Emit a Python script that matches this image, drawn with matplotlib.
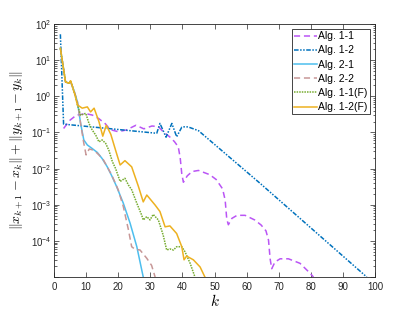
import numpy as np
import matplotlib
matplotlib.use('Agg')
import matplotlib.pyplot as plt
from matplotlib.ticker import LogLocator, NullFormatter, FixedLocator

plt.rcParams['font.family'] = ['Liberation Sans', 'DejaVu Sans']
plt.rcParams['mathtext.fontset'] = 'cm'

# iteration index / error values
k_a11 = [3, 5, 7, 10, 12, 14, 16, 17.5, 20, 22.5, 25.5, 28, 30.5, 32.5, 34, 36, 37.5, 38.7, 39.3,
         39.8, 40.3, 41.5, 43, 45, 48.5, 50.5, 52.5, 53.3, 53.8, 54.3, 55.4, 57, 59.5, 62.5, 64.5,
         66, 66.8, 67.3, 67.8, 68.8, 70.4, 73, 76.6, 79.8, 80.8]
e_a11 = [0.129, 0.219, 0.302, 0.331, 0.302, 0.24, 0.174, 0.12, 0.105, 0.117, 0.158, 0.126, 0.151,
         0.145, 0.105, 0.076, 0.056, 0.040, 0.020, 7.1e-3, 4.2e-3, 6.3e-3, 8.3e-3, 8.9e-3, 6.8e-3,
         5.0e-3, 2.75e-3, 1.35e-3, 4.0e-4, 2.8e-4, 4.2e-4, 5.1e-4, 5.1e-4, 3.8e-4, 2.75e-4, 1.9e-4,
         1.05e-4, 3.2e-5, 1.7e-5, 2.6e-5, 3.2e-5, 3.2e-5, 2.4e-5, 1.26e-5, 1.0e-5]

k_a12 = [2, 3, 32, 33, 34.9, 36.7, 38.2, 39.8, 41, 42, 43, 45, 64.2, 97.4]
e_a12 = [52, 0.17, 0.095, 0.178, 0.074, 0.178, 0.076, 0.14, 0.145, 0.14, 0.13, 0.112, 3.9e-3, 1.0e-5]

k_a21 = [2, 3.6, 4.7, 5.2, 6.2, 7.3, 8.3, 9.3, 10.4, 11.9, 13.5, 15, 16.6, 18, 19.5, 21.6, 23.7,
         25.8, 27.8]
e_a21 = [21.4, 2.5, 2.3, 2.5, 1.48, 0.71, 0.178, 0.062, 0.045, 0.036, 0.028, 0.019, 0.0112, 6.3e-3,
         3.2e-3, 1.1e-3, 3.1e-4, 6.9e-5, 1.0e-5]

k_a22 = [2, 3.6, 4.7, 5.2, 6.2, 7.3, 8.3, 9.3, 10, 11, 12.5, 14, 15.4, 18, 20, 21.6, 23.2, 24.2,
         25.2, 26.8, 28.9, 30.4, 31.5]
e_a22 = [21.4, 2.5, 2.3, 2.5, 1.48, 0.71, 0.178, 0.05, 0.024, 0.035, 0.032, 0.024, 0.0174, 6.6e-3,
         2.6e-3, 8.9e-4, 2.0e-4, 6.9e-5, 5.9e-5, 5.6e-5, 3.3e-5, 2.1e-5, 1.0e-5]

k_a11f = [2, 3.6, 4.7, 5.2, 6.7, 7.3, 8.3, 9.9, 10.9, 11.9, 13, 14, 15, 16.1, 17.1, 18.2, 19.2,
          20.6, 22.1, 23.2, 24.2, 25.8, 27.3, 27.8, 28.9, 29.9, 30.9, 32.5, 34, 35.1, 36.1, 37.2,
          38.2, 39.8, 40.8, 42.4, 43.9]
e_a11f = [21.4, 2.5, 2.3, 2.7, 0.98, 0.58, 0.30, 0.34, 0.178, 0.117, 0.085, 0.055, 0.062, 0.050,
          0.032, 0.0155, 0.010, 4.4e-3, 5.4e-3, 3.5e-3, 2.6e-3, 1.1e-3, 5.2e-4, 3.8e-4, 4.7e-4,
          3.8e-4, 5.4e-4, 3.8e-4, 1.45e-4, 5.6e-5, 6.0e-5, 5.6e-5, 6.9e-5, 6.9e-5, 5.0e-5, 2.4e-5,
          1.0e-5]

k_a12f = [2, 3.6, 4.7, 5.2, 6.7, 7.3, 8.8, 10.4, 11.4, 12.5, 14, 15.2, 16.3, 17.7, 19.2, 20.6,
          22.1, 24.2, 26.3, 27.8, 28.9, 31.5, 33, 34.6, 36.1, 38.2, 39.8, 40.5, 41.3, 43.4, 45.5, 47]
e_a12f = [21.4, 2.5, 2.3, 2.7, 0.98, 0.58, 0.47, 0.51, 0.37, 0.47, 0.20, 0.079, 0.158, 0.089,
          0.032, 0.0126, 0.0166, 0.0112, 3.2e-3, 1.2e-3, 1.86e-3, 9.8e-4, 6.5e-4, 2.45e-4, 2.6e-4,
          1.6e-4, 6.9e-5, 3.0e-5, 3.8e-5, 3.0e-5, 1.9e-5, 1.0e-5]

labels = ['Alg. 1-1', 'Alg. 1-2', 'Alg. 2-1', 'Alg. 2-2', 'Alg. 1-1(F)', 'Alg. 1-2(F)']
xticks = [0, 10, 20, 30, 40, 50, 60, 70, 80, 90, 100]
yticks = [1e-5, 1e-4, 1e-3, 1e-2, 1e-1, 1e0, 1e1, 1e2]
ytick_labels = ['', r'$\mathdefault{10^{-4}}$', r'$\mathdefault{10^{-3}}$', r'$\mathdefault{10^{-2}}$',
                r'$\mathdefault{10^{-1}}$', r'$\mathdefault{10^{0}}$', r'$\mathdefault{10^{1}}$',
                r'$\mathdefault{10^{2}}$']

fig = plt.figure(figsize=(4.15, 3.12), dpi=100)
ax = fig.add_axes([0.130, 0.112, 0.774, 0.811])

lw = 1.1
ax.semilogy(k_a11, e_a11, color='#BA55F5', ls=(0, (4, 2.5)), lw=lw, label=labels[0])
ax.semilogy(k_a12, e_a12, color='#0072BD', ls=(0, (3, 1, 1, 1, 1, 1)), lw=lw, label=labels[1])
ax.semilogy(k_a21, e_a21, color='#4DBEEE', ls='-', lw=lw, label=labels[2])
ax.semilogy(k_a22, e_a22, color='#C79797', ls=(0, (4, 2.5)), lw=lw, label=labels[3])
ax.semilogy(k_a11f, e_a11f, color='#77AC30', ls=(0, (1, 0.7)), lw=lw, label=labels[4])
ax.semilogy(k_a12f, e_a12f, color='#EDB120', ls='-', lw=lw, label=labels[5])

ax.set_xlim(0, 100)
ax.set_ylim(1e-5, 1e2)
ax.set_xticks(xticks)
ax.yaxis.set_major_locator(FixedLocator(yticks))
ax.set_yticklabels(ytick_labels)
ax.yaxis.set_minor_locator(LogLocator(base=10, subs=np.arange(2, 10), numticks=20))
ax.yaxis.set_minor_formatter(NullFormatter())

for s in ax.spines.values():
    s.set_color('#262626')
    s.set_linewidth(0.6)
ax.tick_params(which='both', direction='in', top=True, right=True, colors='#262626',
               labelsize=7, width=0.5)
ax.tick_params(which='major', length=3.5)
ax.tick_params(which='minor', length=1.8)
ax.tick_params(axis='y', pad=2)

ax.set_xlabel('$k$', fontsize=11, labelpad=1)
ax.set_ylabel(r'$\Vert x_{k+1}-x_k\Vert+\Vert y_{k+1}-y_k\Vert$', fontsize=10, labelpad=3)

leg = ax.legend(loc='upper right', fontsize=7.5, handlelength=2.2, handletextpad=0.15,
                borderpad=0.2, labelspacing=0.4, fancybox=False, framealpha=1,
                borderaxespad=0.5)
leg.get_frame().set_edgecolor('#262626')
leg.get_frame().set_linewidth(0.6)

fig.savefig('out.png', dpi=100)
